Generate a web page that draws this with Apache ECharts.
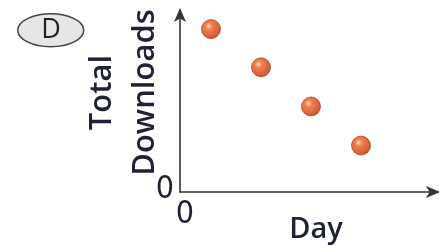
<!DOCTYPE html>
<html>
<head>
<meta charset="utf-8">
<script src="https://cdn.jsdelivr.net/npm/echarts@6/dist/echarts.min.js"></script>
<style>
  html, body { margin: 0; padding: 0; background: #fff; }
  #chart { width: 439px; height: 248px; }
</style>
</head>
<body>
<div id="chart"></div>
<script>
// day positions and total downloads (arbitrary units)
const days = [0.62, 1.62, 2.62, 3.62]
const downloads = [8.95, 6.85, 4.7, 2.55]
const xName = 'Day'
const yName = 'Total\nDownloads'
const panelLabel = 'D'

const chart = echarts.init(document.getElementById('chart'))

const ball = new echarts.graphic.RadialGradient(0.38, 0.35, 0.7, [
  { offset: 0, color: '#ffd2b8' },
  { offset: 0.25, color: '#f0601f' },
  { offset: 0.8, color: '#c9370b' },
  { offset: 1, color: '#9a2a08' }
])

const zeroOnly = v => (v === 0 ? '0' : '')
const zeroFont = 'DejaVu Sans Condensed, Liberation Sans, sans-serif'

const option = {
  backgroundColor: '#fff',
  animation: false,
  grid: { left: 180, right: 1, top: 10, bottom: 56, containLabel: false, outerBoundsMode: 'none' },
  xAxis: {
    type: 'value', min: 0, max: 5.16, interval: 5.16,
    name: xName, nameLocation: 'middle', nameGap: 23, nameMoveOverlap: false,
    nameTextStyle: { fontFamily: 'Open Sans', fontWeight: 600, fontSize: 29, color: '#1f2236', padding: [0, 0, 0, 14] },
    axisLine: { lineStyle: { color: '#333', width: 1.6 }, symbol: ['none', 'arrow'], symbolSize: [9, 14], symbolOffset: [0, 2] },
    axisTick: { show: false },
    splitLine: { show: false },
    axisLabel: { formatter: zeroOnly, margin: 7, fontFamily: zeroFont, fontSize: 32, color: '#1f2236', padding: [0, 0, 0, 10] }
  },
  yAxis: {
    type: 'value', min: 0, max: 10, interval: 10,
    name: yName, nameLocation: 'middle', nameGap: 13, nameRotate: 90, nameMoveOverlap: false,
    nameTextStyle: { fontFamily: 'Open Sans', fontWeight: 600, fontSize: 31, lineHeight: 43, color: '#1f2236', padding: [0, 0, 0, 17] },
    axisLine: { lineStyle: { color: '#333', width: 1.6 }, symbol: ['none', 'arrow'], symbolSize: [9, 14], symbolOffset: [0, 2] },
    axisTick: { show: false },
    splitLine: { show: false },
    axisLabel: { formatter: zeroOnly, margin: 6, fontFamily: zeroFont, fontSize: 32, color: '#1f2236', verticalAlign: 'bottom', padding: [0, 0, -14, 0] }
  },
  graphic: [
    {
      type: 'ellipse', left: 17, top: 13,
      shape: { cx: 0, cy: 0, rx: 33, ry: 16.5 },
      style: { fill: '#e6e6e6', stroke: '#444', lineWidth: 1.5 }
    },
    {
      type: 'text', x: 51, y: 30,
      style: { text: panelLabel, fontFamily: 'Open Sans', fontSize: 27, fill: '#222', align: 'center', verticalAlign: 'middle' }
    }
  ],
  series: [
    {
      type: 'scatter',
      symbolSize: 19,
      itemStyle: { color: ball, borderColor: '#a8300c', borderWidth: 0.8 },
      data: days.map((d, i) => [d, downloads[i]])
    }
  ]
}

chart.setOption(option)
</script>
</body>
</html>
